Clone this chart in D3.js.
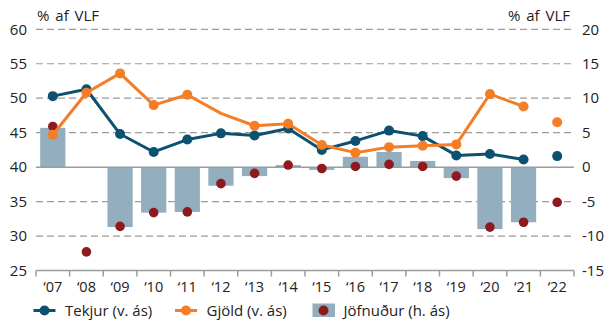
<!DOCTYPE html>
<html>
<head>
<meta charset="utf-8">
<script src="https://cdn.jsdelivr.net/npm/d3@7"></script>
<style>
  html, body { margin: 0; padding: 0; background: #fff; }
  svg { display: block; font-family: "Open Sans", "Noto Sans", sans-serif; }
</style>
</head>
<body>
<svg id="chart" width="607" height="322"></svg>
<script>
// Ríkisfjármál: tekjur, gjöld og jöfnuður, % af VLF
const years = ["‘07", "‘08", "‘09", "‘10", "‘11", "‘12", "‘13", "‘14", "‘15", "‘16", "‘17", "‘18", "‘19", "‘20", "‘21", "‘22"];
const tekjur = [50.3, 51.3, 44.8, 42.2, 44.0, 44.9, 44.6, 45.6, 42.5, 43.8, 45.3, 44.5, 41.7, 41.9, 41.1, 41.6];
const gjold = [44.7, 50.8, 53.6, 49.0, 50.5, 47.8, 46.0, 46.3, 43.2, 42.1, 42.9, 43.1, 43.3, 50.6, 48.8, 46.5];
const jofnudurBars = [5.7, null, -8.7, -6.6, -6.5, -2.7, -1.3, 0.3, -0.4, 1.5, 2.2, 0.9, -1.6, -9.0, -8.0, null];
const jofnudurDots = [5.9, -12.3, -8.6, -6.6, -6.5, -2.4, -0.9, 0.3, -0.2, 0.1, 0.4, 0.1, -1.3, -8.7, -8.0, -5.1];
const leftTicks = [25, 30, 35, 40, 45, 50, 55, 60];
const rightTicks = [-15, -10, -5, 0, 5, 10, 15, 20];
const forecastYears = ["‘22"];          // shown as separate points, not joined
const gjoldUnmarked = ["‘12"];          // no marker on this Gjöld point
const unitLabel = "% af VLF";
const legendLabels = ["Tekjur (v. ás)", "Gjöld (v. ás)", "Jöfnuður (h. ás)"];

const C = { tekjur: "#0d5170", gjold: "#f47d26", bar: "#93aebe", dot: "#8e1a1e", grid: "#9c9c9c", text: "#222" };

const svg = d3.select("#chart");
const plot = { left: 36, right: 574, top: 29.3, bottom: 270.5 };

const x = d3.scaleBand().domain(years).range([plot.left, plot.right]).paddingInner(0.25).paddingOuter(0.125);
const cx = d => x(d) + x.bandwidth() / 2;
const yL = d3.scaleLinear().domain([25, 60]).range([plot.bottom, plot.top]);
const yR = d3.scaleLinear().domain([-15, 20]).range([plot.bottom, plot.top]);

// dashed gridlines (left-axis ticks), solid at the zero of the right axis
svg.append("g").selectAll("line").data(leftTicks.filter(t => t !== 25 && t !== 40)).join("line")
  .attr("x1", plot.left).attr("x2", plot.right)
  .attr("y1", d => yL(d)).attr("y2", d => yL(d))
  .attr("stroke", C.grid).attr("stroke-width", 1.2).attr("stroke-dasharray", "7,4");

// bars: Jöfnuður (right axis)
svg.append("g").selectAll("rect").data(years.map((yr, i) => ({ yr, v: jofnudurBars[i] })).filter(d => d.v != null)).join("rect")
  .attr("x", d => x(d.yr)).attr("width", x.bandwidth())
  .attr("y", d => Math.min(yR(d.v), yR(0)))
  .attr("height", d => Math.abs(yR(d.v) - yR(0)))
  .attr("fill", C.bar);

// zero line
svg.append("line").attr("x1", plot.left).attr("x2", plot.right)
  .attr("y1", yR(0)).attr("y2", yR(0)).attr("stroke", C.grid).attr("stroke-width", 1.5);

// x axis with ticks at category boundaries
const axisY = yL(25);
const xa = svg.append("g");
xa.append("line").attr("x1", plot.left).attr("x2", plot.right).attr("y1", axisY).attr("y2", axisY)
  .attr("stroke", C.grid).attr("stroke-width", 1.5);
const bounds = years.map(d => x(d) - x.step() * x.paddingInner() / 2).concat([plot.right]);
xa.selectAll("line.tick").data(bounds).join("line")
  .attr("x1", d => d).attr("x2", d => d).attr("y1", axisY).attr("y2", axisY + 6)
  .attr("stroke", C.grid).attr("stroke-width", 1.5);
xa.selectAll("text").data(years).join("text")
  .attr("x", d => cx(d)).attr("y", axisY + 21)
  .attr("text-anchor", "middle").attr("font-size", 14.5).attr("fill", C.text).text(d => d);

// y tick labels
svg.append("g").selectAll("text").data(leftTicks).join("text")
  .attr("x", 27).attr("y", d => yL(d)).attr("dy", "0.35em")
  .attr("text-anchor", "end").attr("font-size", 15).attr("fill", C.text).text(d => d);
svg.append("g").selectAll("text").data(rightTicks).join("text")
  .attr("x", 582).attr("y", d => yR(d)).attr("dy", "0.35em")
  .attr("text-anchor", "start").attr("font-size", 15).attr("fill", C.text).text(d => d);

// unit labels
svg.append("text").attr("x", 37).attr("y", 21).attr("font-size", 15).attr("word-spacing", 2).attr("fill", C.text).text(unitLabel);
svg.append("text").attr("x", 570).attr("y", 21).attr("text-anchor", "end").attr("font-size", 15).attr("word-spacing", 2).attr("fill", C.text).text(unitLabel);

// Jöfnuður dots
svg.append("g").selectAll("circle").data(years.map((yr, i) => ({ yr, v: jofnudurDots[i] }))).join("circle")
  .attr("cx", d => cx(d.yr)).attr("cy", d => yR(d.v)).attr("r", 4.8).attr("fill", C.dot);

// line series on left axis
function series(vals, color, unmarked) {
  const pts = years.map((yr, i) => ({ yr, v: vals[i] }));
  const line = d3.line().x(d => cx(d.yr)).y(d => yL(d.v));
  svg.append("path").datum(pts.filter(d => !forecastYears.includes(d.yr)))
    .attr("d", line).attr("fill", "none").attr("stroke", color).attr("stroke-width", 3).attr("stroke-linejoin", "round");
  svg.append("g").selectAll("circle").data(pts.filter(d => !unmarked.includes(d.yr))).join("circle")
    .attr("cx", d => cx(d.yr)).attr("cy", d => yL(d.v)).attr("r", 5).attr("fill", color);
}
series(tekjur, C.tekjur, []);
series(gjold, C.gjold, gjoldUnmarked);

// legend
const ly = 310.5;
const leg = svg.append("g");
[[33.5, C.tekjur, legendLabels[0]], [175, C.gjold, legendLabels[1]]].forEach(([lx, col, lab]) => {
  leg.append("line").attr("x1", lx).attr("x2", lx + 22).attr("y1", ly).attr("y2", ly).attr("stroke", col).attr("stroke-width", 3);
  leg.append("circle").attr("cx", lx + 11).attr("cy", ly).attr("r", 5).attr("fill", col);
  leg.append("text").attr("x", lx + 31.5).attr("y", ly).attr("dy", "0.35em").attr("font-size", 15).attr("fill", C.text).text(lab);
});
leg.append("rect").attr("x", 312.5).attr("y", ly - 7).attr("width", 22.5).attr("height", 13.5).attr("fill", C.bar);
leg.append("circle").attr("cx", 323.5).attr("cy", ly).attr("r", 5).attr("fill", C.dot);
leg.append("text").attr("x", 343.5).attr("y", ly).attr("dy", "0.35em").attr("font-size", 15).attr("fill", C.text).text(legendLabels[2]);
</script>
</body>
</html>
